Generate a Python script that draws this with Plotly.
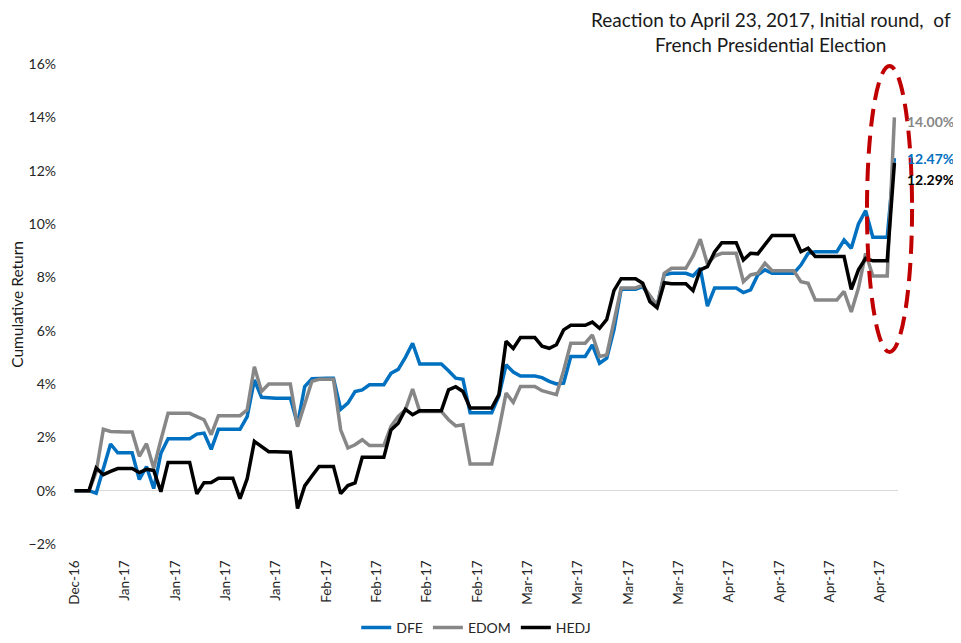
import pandas as pd
import plotly.graph_objects as go

# ---- data (cumulative return, %) on each weekday; first point is the base ----
start_date = "2016-12-31"
weekdays = [start_date] + list(pd.bdate_range("2017-01-02", "2017-04-24").strftime("%Y-%m-%d"))

dfe = [
    0.00,
    0.00, -0.10, 0.80, 1.75, 1.42,     # Jan 2-6
    0.42, 0.90, 0.08, 1.40, 1.95,      # Jan 9-13
    1.95, 2.12, 2.16, 1.55, 2.30,      # Jan 16-20
    2.30, 2.78, 4.15, 3.50, 3.47,      # Jan 23-27
    3.47, 2.50, 3.90, 4.20, 4.22,      # Jan 30-Feb 3
    3.05, 3.28, 3.72, 3.78, 3.97,      # Feb 6-10
    4.40, 4.55, 5.00, 5.53, 4.75,      # Feb 13-17
    4.75, 4.50, 4.22, 4.18, 2.92,      # Feb 20-24
    2.92, 3.55, 4.72, 4.45, 4.30,      # Feb 27-Mar 3
    4.24, 4.10, 4.00, 4.03, 5.03,      # Mar 6-10
    5.47, 4.78, 4.97, 6.03, 7.55,      # Mar 13-17
    7.65, 7.28, 6.93, 8.10, 8.15,      # Mar 20-24
    8.05, 8.34, 6.92, 7.60, 7.60,      # Mar 27-31
    7.43, 7.53, 8.09, 8.28, 8.15,      # Apr 3-7
    8.15, 8.46, 8.90, 8.96, 8.96,      # Apr 10-14
    9.40, 9.09, 10.00, 10.50, 9.50,    # Apr 17-21
    12.47,                             # Apr 24
]

edom = [
    0.00,
    0.00, 0.70, 2.30, 2.22, 2.20,
    1.29, 1.76, 0.85, 1.90, 2.90,
    2.90, 2.78, 2.66, 2.10, 2.81,
    2.81, 3.03, 4.65, 3.72, 4.00,
    4.00, 2.40, 3.26, 4.10, 4.18,
    2.28, 1.60, 1.72, 1.91, 1.69,
    2.41, 2.78, 3.03, 3.81, 2.97,
    2.97, 2.66, 2.43, 2.47, 1.00,
    1.00, 2.28, 3.66, 3.31, 3.91,
    3.75, 3.66, 3.60, 4.50, 5.53,
    5.84, 5.03, 5.09, 6.28, 7.60,
    7.70, 7.34, 6.93, 8.15, 8.34,
    8.80, 9.43, 8.50, 8.80, 8.90,
    7.84, 8.09, 8.15, 8.53, 8.25,
    8.25, 7.84, 7.78, 7.15, 7.15,
    7.47, 6.70, 7.60, 8.90, 8.05,
    14.00,
]

hedj = [
    0.00,
    0.00, 0.85, 0.60, 0.72, 0.83,
    0.68, 0.80, 0.76, -0.04, 1.06,
    1.06, -0.12, 0.30, 0.31, 0.47,
    -0.30, 0.45, 1.85, 1.66, 1.46,
    1.44, -0.67, 0.18, 0.55, 0.91,
    -0.11, 0.19, 0.29, 1.25, 1.25,
    2.28, 2.53, 3.05, 2.85, 3.00,
    3.00, 3.78, 3.90, 3.72, 3.10,
    3.10, 3.60, 5.60, 5.33, 5.74,
    5.42, 5.34, 5.47, 6.03, 6.20,
    6.32, 6.09, 6.42, 7.50, 7.95,
    7.78, 7.09, 6.86, 7.80, 7.76,
    7.50, 8.28, 8.40, 8.95, 9.30,
    8.65, 8.90, 8.88, 9.21, 9.57,
    9.57, 8.96, 9.09, 8.78, 8.78,
    8.78, 7.55, 8.28, 8.71, 8.62,
    12.29,
]

series_names = ["DFE", "EDOM", "HEDJ"]
series_colors = ["#0070C0", "#878787", "#000000"]

tick_dates = list(pd.date_range(start_date, periods=17, freq="7D").strftime("%Y-%m-%d"))
tick_labels = ["Dec-16", "Jan-17", "Jan-17", "Jan-17", "Jan-17",
               "Feb-17", "Feb-17", "Feb-17", "Feb-17",
               "Mar-17", "Mar-17", "Mar-17", "Mar-17",
               "Apr-17", "Apr-17", "Apr-17", "Apr-17"]

title_text = "Reaction to April 23, 2017, Initial round,  of<br>French Presidential Election"


def daily(vals):
    # non-trading calendar days hold the last value (flat segments in the chart)
    s = pd.Series(vals, index=pd.to_datetime(weekdays))
    return s.asfreq("D").ffill()


FONT = "Lato, 'Open Sans', sans-serif"
fig = go.Figure()
for name, vals, col in zip(series_names, [dfe, edom, hedj], series_colors):
    s = daily(vals)
    fig.add_trace(go.Scatter(x=s.index, y=s.values, mode="lines", name=name,
                             line=dict(color=col, width=3.5)))

# end-value labels
label_shift = {"DFE": 0, "EDOM": -4, "HEDJ": -17}
for name, vals, col in zip(series_names, [dfe, edom, hedj], series_colors):
    fig.add_annotation(x=weekdays[-1], y=vals[-1], xref="x", yref="y",
                       text=f"<b>{vals[-1]:.2f}%</b>", showarrow=False,
                       xanchor="left", yanchor="middle", xshift=11,
                       yshift=label_shift[name],
                       font=dict(family=FONT, size=14, color=col))

# title (two lines, block centred)
fig.add_annotation(x=0.847, y=1.067, xref="paper", yref="paper",
                   text=title_text, showarrow=False, xanchor="center", yanchor="middle",
                   font=dict(family=FONT, size=19, color="#1a1a1a"))

# y-axis title
fig.add_annotation(x=-0.0655, y=0.5, xref="paper", yref="paper",
                   text="Cumulative Return", showarrow=False, textangle=-90,
                   xanchor="center", yanchor="middle",
                   font=dict(family=FONT, size=15.5, color="#1a1a1a"))

# red dashed ellipse highlight
fig.add_shape(type="circle", xref="paper", yref="paper",
              x0=0.9625, x1=1.017, y0=0.40, y1=0.996,
              line=dict(color="#C00000", width=4, dash="18px,9px"))

# the page body adds an 8px offset, so the figure is 8px smaller than the window
fig.update_layout(
    width=953, height=635,
    margin=dict(l=63, r=63, t=56, b=99, autoexpand=False),
    plot_bgcolor="white", paper_bgcolor="white",
    font=dict(family=FONT, size=12, color="#262626"),
    showlegend=True,
    legend=dict(orientation="h", x=0.49, xanchor="center", y=-0.175, yanchor="middle",
                font=dict(family=FONT, size=14, color="#262626")),
)
fig.update_xaxes(type="date", range=["2016-12-30 12:00", "2017-04-24 12:00"],
                 tickvals=tick_dates, ticktext=tick_labels, tickangle=-90,
                 showgrid=False, showline=False, zeroline=False,
                 ticks="outside", ticklen=10, tickcolor="rgba(0,0,0,0)",
                 automargin=False,
                 tickfont=dict(family=FONT, size=13.5, color="#262626"))
fig.update_yaxes(range=[-2, 16], dtick=2, ticksuffix="%", showgrid=False,
                 zeroline=True, zerolinecolor="#d9d9d9", zerolinewidth=1,
                 showline=False, ticks="", ticklabelstandoff=14, automargin=False,
                 tickfont=dict(family=FONT, size=14, color="#262626"))

fig.write_html("out.html")
